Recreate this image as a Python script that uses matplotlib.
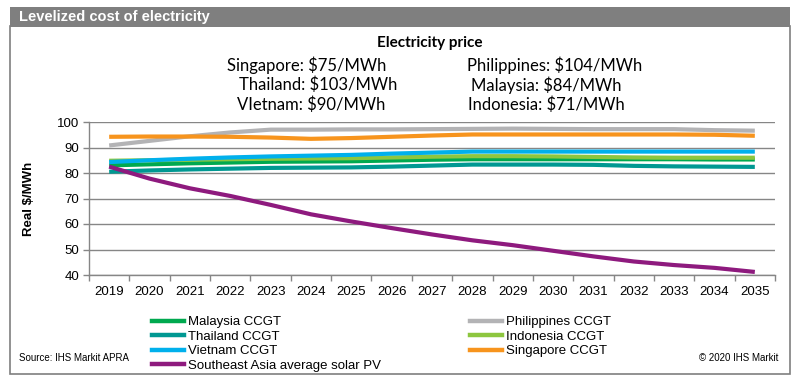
import matplotlib
matplotlib.use("Agg")
import matplotlib.pyplot as plt
from matplotlib.patches import Rectangle
from matplotlib.lines import Line2D

# data (real $/MWh)
years = [str(y) for y in range(2019, 2036)]

malaysia = [83.0, 83.4, 83.8, 84.1, 84.4, 84.5, 84.6, 84.9, 85.2, 85.4, 85.4, 85.4, 85.4, 85.4, 85.4, 85.3, 85.3]
thailand = [80.5, 81.0, 81.4, 81.7, 82.0, 82.1, 82.2, 82.5, 82.9, 83.3, 83.3, 83.3, 83.2, 82.8, 82.6, 82.5, 82.4]
vietnam = [84.3, 85.0, 85.6, 86.1, 86.5, 86.8, 87.1, 87.6, 88.0, 88.4, 88.4, 88.4, 88.4, 88.4, 88.4, 88.4, 88.4]
solar_pv = [82.5, 77.8, 74.0, 71.0, 67.5, 63.8, 61.0, 58.4, 55.9, 53.6, 51.7, 49.5, 47.3, 45.3, 43.9, 42.8, 41.2]
philippines = [90.8, 92.6, 94.4, 95.9, 97.0, 97.0, 97.1, 97.1, 97.2, 97.3, 97.4, 97.3, 97.2, 97.2, 97.2, 96.8, 96.6]
indonesia = [84.8, 85.0, 85.2, 85.4, 85.6, 85.7, 85.8, 86.1, 86.4, 86.6, 86.6, 86.5, 86.3, 86.1, 86.0, 86.0, 86.0]
singapore = [94.2, 94.3, 94.3, 94.2, 93.9, 93.4, 93.7, 94.2, 94.7, 95.1, 95.1, 95.1, 95.1, 95.1, 95.1, 95.0, 94.6]

series = [
    ("Malaysia CCGT", malaysia, "#00A94F"),
    ("Thailand CCGT", thailand, "#009892"),
    ("Vietnam CCGT", vietnam, "#00B0EC"),
    ("Southeast Asia average solar PV", solar_pv, "#8E1A7E"),
    ("Philippines CCGT", philippines, "#B3B3B5"),
    ("Indonesia CCGT", indonesia, "#8DC63F"),
    ("Singapore CCGT", singapore, "#F7941D"),
]
draw_order = [4, 6, 0, 5, 2, 1, 3]

price_left = ["Singapore: $75/MWh", "Thailand: $103/MWh", "VIetnam: $90/MWh"]
price_right = ["Philippines: $104/MWh", "Malaysia: $84/MWh", "Indonesia: $71/MWh"]

W, H = 799, 384
plt.rcParams["font.family"] = ["Liberation Sans", "DejaVu Sans"]
fig = plt.figure(figsize=(W / 100, H / 100), dpi=100)


def px(x, y):
    # pixel coords (top-left origin) -> figure fraction
    return x / W, 1 - y / H


# frame and header bar
fig.patches.append(Rectangle(px(9.5, 374), 780 / W, 348 / H, transform=fig.transFigure,
                             facecolor="white", edgecolor="#7F7F7F", linewidth=1.2, zorder=-2))
fig.patches.append(Rectangle(px(9.5, 26.5), 780.5 / W, 19.5 / H, transform=fig.transFigure,
                             facecolor="#7F7F7F", edgecolor="none", zorder=-1))
fig.text(*px(19, 17), "Levelized cost of electricity", color="white", fontsize=10.5,
         fontweight="bold", va="center", ha="left")

# plot area
ax = fig.add_axes([89 / W, 1 - 275 / H, 686 / W, 153 / H])
ax.set_zorder(2)
ax.patch.set_alpha(0)
x = list(range(len(years)))
for i in draw_order:
    name, vals, col = series[i]
    ax.plot(x, vals, color=col, linewidth=3.0, solid_capstyle="butt", zorder=3)

ax.set_xlim(-0.5, len(years) - 0.5)
ax.set_ylim(40, 100)
ax.set_yticks(range(40, 101, 10))
ax.set_xticks(x)
ax.set_xticklabels(years)
ax.set_xticks([i - 0.5 for i in range(len(years) + 1)], minor=True)
ax.tick_params(axis="x", which="major", length=0, labelsize=9.5, pad=8, colors="black")
ax.tick_params(axis="x", which="minor", length=4, width=1, color="#868686", direction="out")
ax.tick_params(axis="y", length=4, width=1, color="#868686", labelsize=9.5, pad=3,
               labelcolor="black")
ax.grid(axis="y", color="#868686", linewidth=1)
ax.set_axisbelow(True)
for s in ["top", "right"]:
    ax.spines[s].set_visible(False)
for s in ["left", "bottom"]:
    ax.spines[s].set_color("#868686")
    ax.spines[s].set_linewidth(1)
ax.set_ylabel("Real $/MWh", fontsize=9.5, fontweight="bold", labelpad=16)

# electricity price box
fig.text(*px(430, 43), "Electricity price", fontsize=11, fontweight="bold",
         family=["Lato", "DejaVu Sans"], ha="center", va="center")
left_x = [307, 318, 311]
right_x = [555, 546, 546]
for j, (l, r) in enumerate(zip(price_left, price_right)):
    fig.text(*px(left_x[j], 65 + 20 * j), l, fontsize=12, family=["Lato", "DejaVu Sans"],
             ha="center", va="center")
    fig.text(*px(right_x[j], 65 + 20 * j), r, fontsize=12, family=["Lato", "DejaVu Sans"],
             ha="center", va="center")

# legend
handles = [Line2D([], [], color=c, linewidth=3.2) for _, _, c in series]
labels = [n for n, _, _ in series]
fig.legend(handles, labels, ncol=2, loc="upper left", bbox_to_anchor=px(152, 316),
           frameon=False, fontsize=9.5, handlelength=2.4, handletextpad=0.3,
           labelspacing=0.18, columnspacing=6.8, borderaxespad=0, borderpad=0)

fig.text(*px(19, 358), "Source: IHS Markit APRA", fontsize=7, va="center", ha="left")
fig.text(*px(778, 358), "\u00a9 2020 IHS Markit", fontsize=7, va="center", ha="right")

fig.savefig("out.png", dpi=100)
